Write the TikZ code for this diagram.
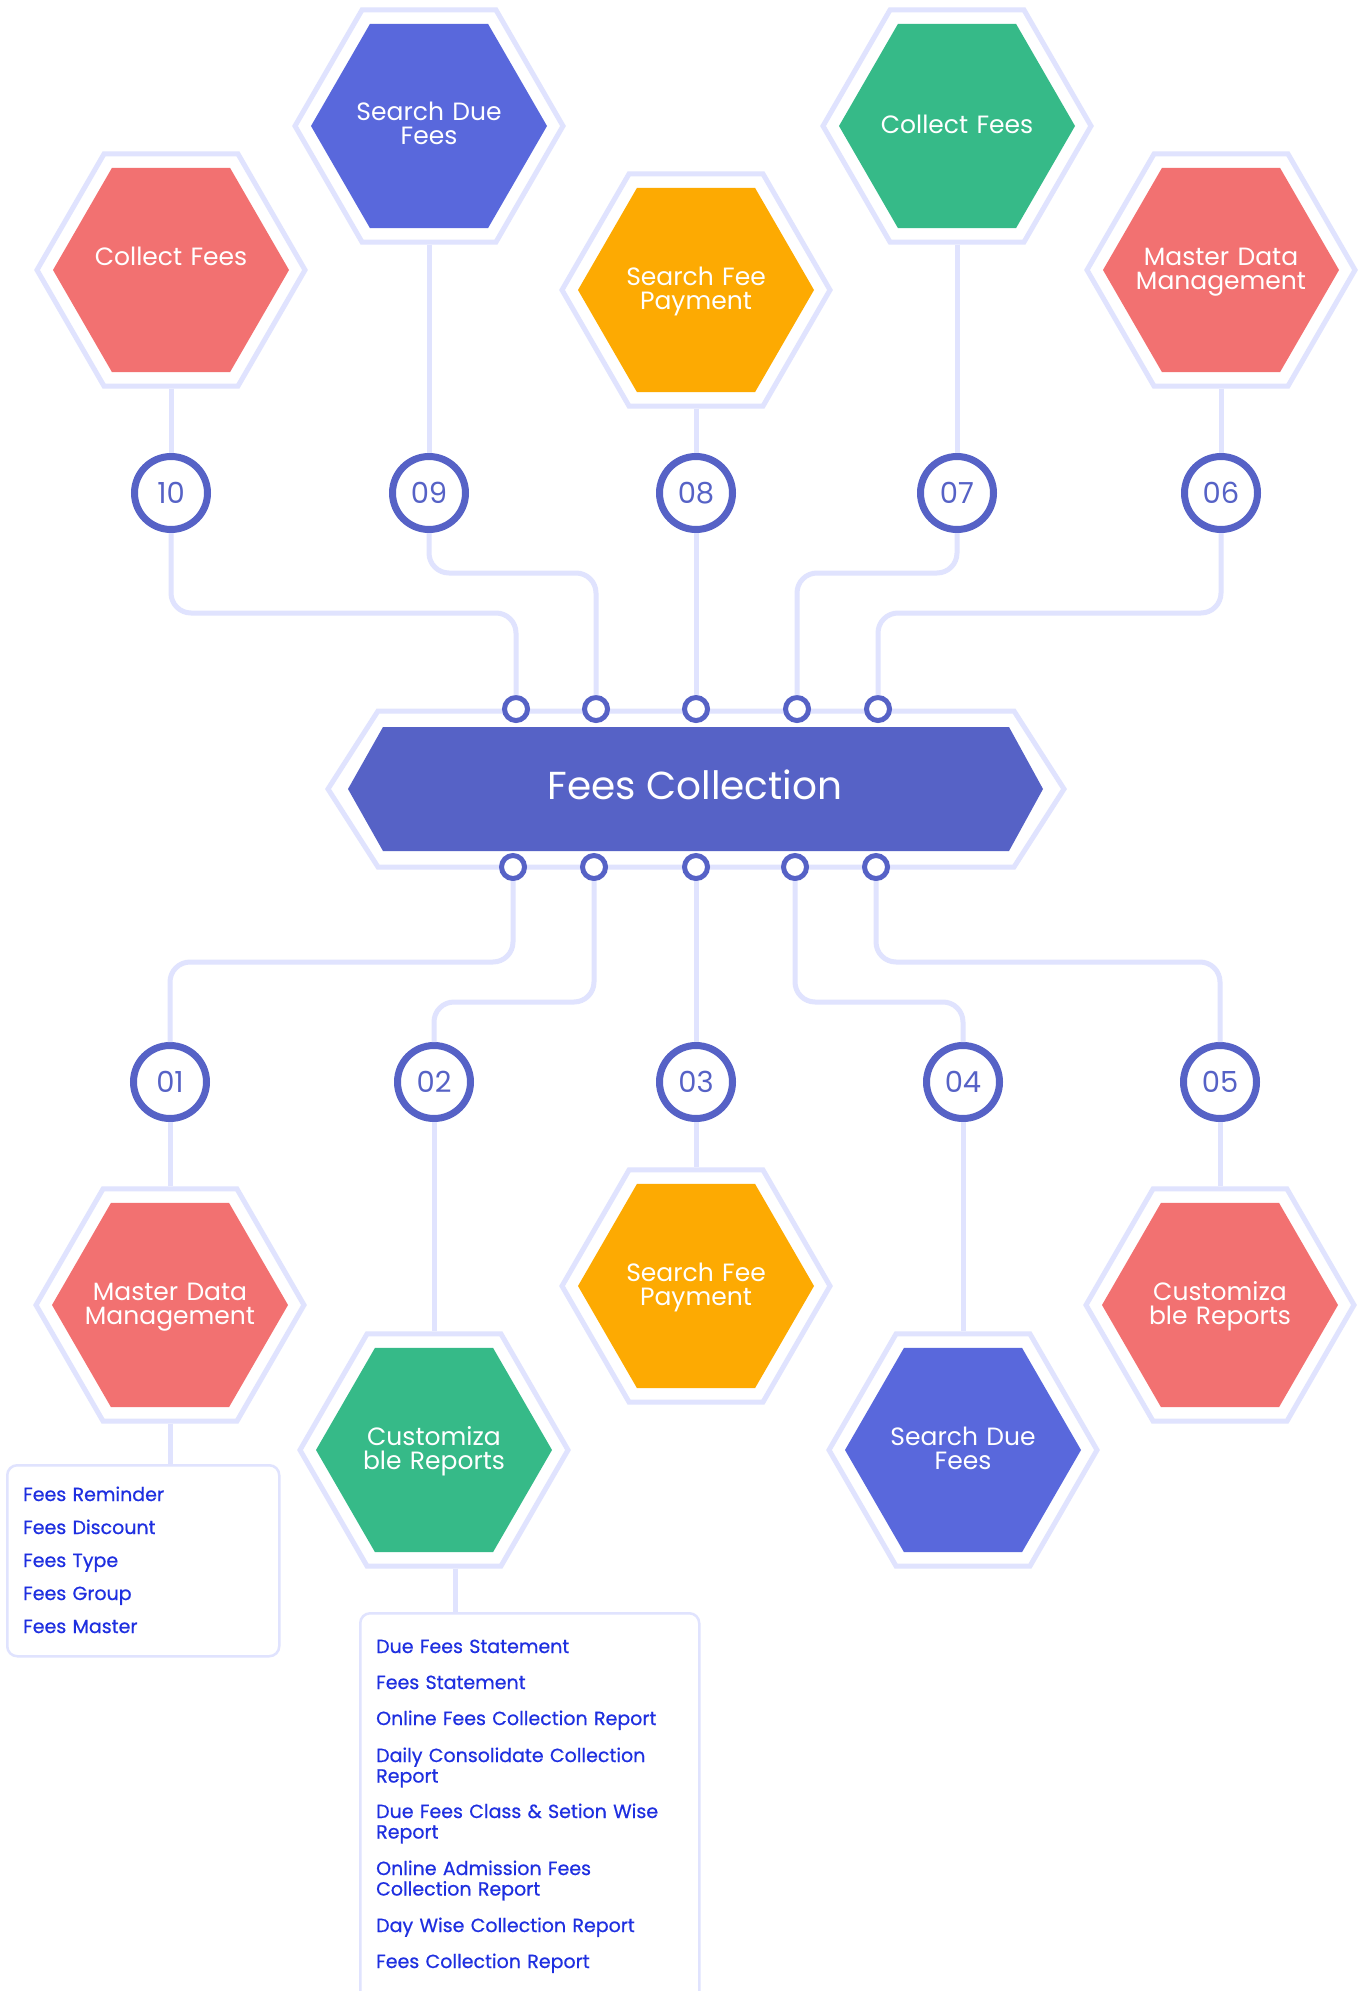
\documentclass[tikz,border=0pt]{standalone}
\usepackage{fontspec}
\setmainfont{Poppins}
\newfontfamily\listfont[BoldFont=Poppins, BoldFeatures={FakeBold=0.6}]{Poppins}
\usetikzlibrary{shapes.geometric}
\definecolor{hexred}{HTML}{F27171}
\definecolor{hexblue}{HTML}{5968DC}
\definecolor{hexorange}{HTML}{FDAA02}
\definecolor{hexgreen}{HTML}{36BA88}
\definecolor{mainblue}{HTML}{5662C6}
\definecolor{lavender}{HTML}{E0E3FE}
\definecolor{listblue}{HTML}{1E2FE0}

\begin{document}
\begin{tikzpicture}[x=1pt, y=-1pt,
  link/.style={lavender, line width=5pt, rounded corners=20pt},
  hexborder/.style={regular polygon, regular polygon sides=6, minimum size=268pt, inner sep=0pt, draw=lavender, line width=5pt, fill=white},
  hexfill/.style={regular polygon, regular polygon sides=6, minimum size=236pt, inner sep=0pt},
  hexlabel/.style={text=white, font=\fontsize{25}{24}\selectfont, text width=220pt, align=center, anchor=base, inner sep=0pt},
  numcircle/.style={circle, draw=mainblue, line width=7pt, fill=white, minimum size=73pt, inner sep=0pt, text=mainblue, font=\fontsize{29}{29}\selectfont},
  port/.style={circle, draw=mainblue, line width=5pt, fill=white, minimum size=23pt, inner sep=0pt},
  listbox/.style={draw=lavender, line width=2.5pt, rounded corners=10pt, fill=white, anchor=north west, inner sep=0pt},
  listtext/.style={text=listblue, font=\listfont\bfseries\fontsize{19}{20.5}\selectfont, anchor=base west, text width=320pt, align=left, inner sep=0pt}]
\useasboundingbox[fill=white] (0,0) rectangle (1365,1991);

% hexagons, top row then bottom row
\foreach \nm/\cx/\cy/\dy/\col/\txt in {h10/171/270/-5/hexred/{Collect Fees},
  h09/429/126/-5/hexblue/{Search Due\\Fees},
  h08/696/290/-5/hexorange/{Search Fee\\Payment},
  h07/957/126/8/hexgreen/{Collect Fees},
  h06/1221/270/-5/hexred/{Master Data\\Management},
  h01/170/1305/-5/hexred/{Master Data\\Management},
  h02/434/1450/-5/hexgreen/{Customiza\\ble Reports},
  h03/696/1286/-5/hexorange/{Search Fee\\Payment},
  h04/963/1450/-5/hexblue/{Search Due\\Fees},
  h05/1220/1305/-5/hexred/{Customiza\\ble Reports}}{
  \node[hexborder] (\nm) at (\cx,\cy) {};
  \node[hexfill, fill=\col] (\nm-in) at (\cx,\cy) {};
  \node[hexlabel] (\nm-txt) at (\cx,\cy+\dy) {\txt};
}

% numbered circles
\foreach \nm/\cx/\cy/\lbl in {n10/171/493/10, n09/429/493/09, n08/696/493/08,
  n07/957/493/07, n06/1221/493/06, n01/170/1082/01, n02/434/1082/02,
  n03/696/1082/03, n04/963/1082/04, n05/1220/1082/05}
  \node[numcircle] (\nm) at (\cx,\cy) {\lbl};

% centre hexagon
\draw[lavender, line width=5pt, fill=white] (328,789) -- (378,711) -- (1014,711)
  -- (1064,789) -- (1014,867) -- (378,867) -- cycle;
\fill[mainblue] (348,789) -- (383,727) -- (1009,727) -- (1043,789)
  -- (1009,851) -- (383,851) -- cycle;
\node[text=white, font=\fontsize{39}{39}\selectfont, anchor=base] (fees) at (695,799) {Fees Collection};

\foreach \nm/\cx in {p10/516, p09/596, p08/696, p07/797, p06/878}
  \node[port] (\nm) at (\cx,709) {};
\foreach \nm/\cx in {q01/513, q02/594, q03/696, q04/795, q05/876}
  \node[port] (\nm) at (\cx,867) {};

\coordinate (up1) at (0,613);
\coordinate (up2) at (0,573);
\coordinate (dn1) at (0,962);
\coordinate (dn2) at (0,1002);

% hexagon to circle
\foreach \a in {10, 09, 08, 07, 06}
  \draw[link] (h\a.south) -- (n\a.north);
\foreach \a in {01, 02, 03, 04, 05}
  \draw[link] (n\a.south) -- (h\a.north);

% circles to the centre
\draw[link] (n10.south) |- (up1 -| p10) -- (p10.north);
\draw[link] (n09.south) |- (up2 -| p09) -- (p09.north);
\draw[link] (n08.south) -- (p08.north);
\draw[link] (n07.south) |- (up2 -| p07) -- (p07.north);
\draw[link] (n06.south) |- (up1 -| p06) -- (p06.north);
\draw[link] (q01.south) |- (dn1 -| n01) -- (n01.north);
\draw[link] (q02.south) |- (dn2 -| n02) -- (n02.north);
\draw[link] (q03.south) -- (n03.north);
\draw[link] (q04.south) |- (dn2 -| n04) -- (n04.north);
\draw[link] (q05.south) |- (dn1 -| n05) -- (n05.north);

% lists
\node[listbox, minimum width=272pt, minimum height=191pt] (box1) at (6,1464) {};
\node[listbox, minimum width=339pt, minimum height=420pt] (box2) at (359,1612) {};
\coordinate (h02tail) at ([xshift=21pt]h02.south);
\draw[link] (h01.south) -- (h01.south |- box1.north);
\draw[link] (h02tail) -- (h02tail |- box2.north);

\foreach \t [count=\i] in {Fees Reminder, Fees Discount, Fees Type, Fees Group, Fees Master}
  \node[listtext] (m\i) at (23,1468+33*\i) {\t};

\node[listtext] (r1) at (376,1653) {Due Fees Statement};
\node[listtext] (r2) at (376,1689) {Fees Statement};
\node[listtext] (r3) at (376,1725) {Online Fees Collection Report};
\node[listtext] (r4) at (376,1762) {Daily Consolidate Collection\\Report};
\node[listtext] (r5) at (376,1818) {Due Fees Class \& Setion Wise\\Report};
\node[listtext] (r6) at (376,1875) {Online Admission Fees\\Collection Report};
\node[listtext] (r7) at (376,1932) {Day Wise Collection Report};
\node[listtext] (r8) at (376,1968) {Fees Collection Report};
\end{tikzpicture}
\end{document}
